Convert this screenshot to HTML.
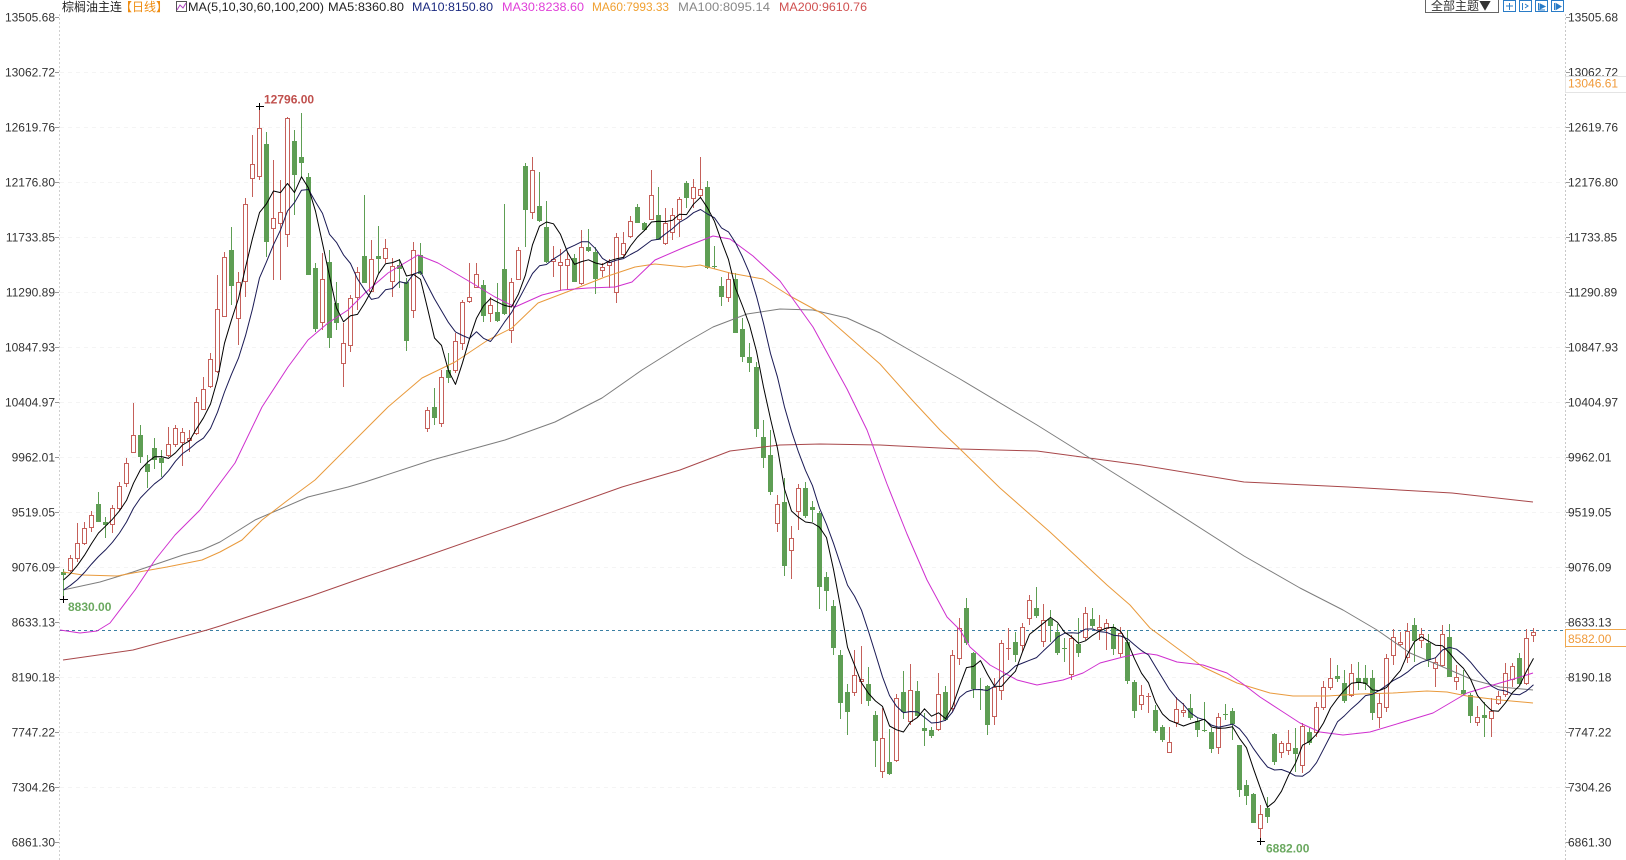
<!DOCTYPE html>
<html><head><meta charset="utf-8"><style>
html,body{margin:0;padding:0;background:#fff;}
svg{display:block;}
text{font-family:"Liberation Sans","Noto Sans CJK SC",sans-serif;font-size:12px;}
.ax{fill:#333;}
</style></head><body>
<svg id="s" width="1626" height="860" viewBox="0 0 1626 860" xmlns="http://www.w3.org/2000/svg">
<rect width="1626" height="860" fill="#fff"/>
<g stroke="#f4f4f4" stroke-dasharray="4,4" stroke-width="1">
<line x1="60" y1="72.5" x2="1566" y2="72.5"/><line x1="60" y1="127.5" x2="1566" y2="127.5"/><line x1="60" y1="182.5" x2="1566" y2="182.5"/><line x1="60" y1="237.5" x2="1566" y2="237.5"/><line x1="60" y1="292.5" x2="1566" y2="292.5"/><line x1="60" y1="347.5" x2="1566" y2="347.5"/><line x1="60" y1="402.5" x2="1566" y2="402.5"/><line x1="60" y1="457.5" x2="1566" y2="457.5"/><line x1="60" y1="512.5" x2="1566" y2="512.5"/><line x1="60" y1="567.5" x2="1566" y2="567.5"/><line x1="60" y1="677.5" x2="1566" y2="677.5"/><line x1="60" y1="732.5" x2="1566" y2="732.5"/><line x1="60" y1="787.5" x2="1566" y2="787.5"/>
</g>
<line x1="59.5" y1="14" x2="59.5" y2="860" stroke="#d0d0d0" stroke-dasharray="2,2"/>
<line x1="1565.5" y1="14" x2="1565.5" y2="860" stroke="#c8c8c8" stroke-dasharray="2,2"/>
<g stroke="#999">
<line x1="55" y1="17.5" x2="59" y2="17.5"/><line x1="55" y1="72.5" x2="59" y2="72.5"/><line x1="55" y1="127.5" x2="59" y2="127.5"/><line x1="55" y1="182.5" x2="59" y2="182.5"/><line x1="55" y1="237.5" x2="59" y2="237.5"/><line x1="55" y1="292.5" x2="59" y2="292.5"/><line x1="55" y1="347.5" x2="59" y2="347.5"/><line x1="55" y1="402.5" x2="59" y2="402.5"/><line x1="55" y1="457.5" x2="59" y2="457.5"/><line x1="55" y1="512.5" x2="59" y2="512.5"/><line x1="55" y1="567.5" x2="59" y2="567.5"/><line x1="55" y1="622.5" x2="59" y2="622.5"/><line x1="55" y1="677.5" x2="59" y2="677.5"/><line x1="55" y1="732.5" x2="59" y2="732.5"/><line x1="55" y1="787.5" x2="59" y2="787.5"/><line x1="55" y1="842.5" x2="59" y2="842.5"/>
<line x1="1566" y1="17.5" x2="1570" y2="17.5"/><line x1="1566" y1="72.5" x2="1570" y2="72.5"/><line x1="1566" y1="127.5" x2="1570" y2="127.5"/><line x1="1566" y1="182.5" x2="1570" y2="182.5"/><line x1="1566" y1="237.5" x2="1570" y2="237.5"/><line x1="1566" y1="292.5" x2="1570" y2="292.5"/><line x1="1566" y1="347.5" x2="1570" y2="347.5"/><line x1="1566" y1="402.5" x2="1570" y2="402.5"/><line x1="1566" y1="457.5" x2="1570" y2="457.5"/><line x1="1566" y1="512.5" x2="1570" y2="512.5"/><line x1="1566" y1="567.5" x2="1570" y2="567.5"/><line x1="1566" y1="622.5" x2="1570" y2="622.5"/><line x1="1566" y1="677.5" x2="1570" y2="677.5"/><line x1="1566" y1="732.5" x2="1570" y2="732.5"/><line x1="1566" y1="787.5" x2="1570" y2="787.5"/><line x1="1566" y1="842.5" x2="1570" y2="842.5"/>
</g>
<!-- left axis labels -->
<g class="ax" text-anchor="end">
<text x="55" y="21.6">13505.68</text><text x="55" y="76.6">13062.72</text><text x="55" y="131.6">12619.76</text><text x="55" y="186.6">12176.80</text><text x="55" y="241.6">11733.85</text><text x="55" y="296.6">11290.89</text><text x="55" y="351.6">10847.93</text><text x="55" y="406.6">10404.97</text><text x="55" y="461.6">9962.01</text><text x="55" y="516.6">9519.05</text><text x="55" y="571.6">9076.09</text><text x="55" y="626.6">8633.13</text><text x="55" y="681.6">8190.18</text><text x="55" y="736.6">7747.22</text><text x="55" y="791.6">7304.26</text><text x="55" y="846.6">6861.30</text>
</g>
<!-- right axis labels -->
<g class="ax">
<text x="1568" y="21.6">13505.68</text><text x="1568" y="76.6">13062.72</text><text x="1568" y="131.6">12619.76</text><text x="1568" y="186.6">12176.80</text><text x="1568" y="241.6">11733.85</text><text x="1568" y="296.6">11290.89</text><text x="1568" y="351.6">10847.93</text><text x="1568" y="406.6">10404.97</text><text x="1568" y="461.6">9962.01</text><text x="1568" y="516.6">9519.05</text><text x="1568" y="571.6">9076.09</text><text x="1568" y="626.6">8633.13</text><text x="1568" y="681.6">8190.18</text><text x="1568" y="736.6">7747.22</text><text x="1568" y="791.6">7304.26</text><text x="1568" y="846.6">6861.30</text>
</g>
<rect x="1565.5" y="76.5" width="62" height="16" fill="#fff" stroke="#e4e4e4"/>
<text x="1568" y="87.6" fill="#f09a3a">13046.61</text>
<line x1="60" y1="630.5" x2="1566" y2="630.5" stroke="#3a7fa3" stroke-dasharray="3,3"/>
<rect x="1565.5" y="629.5" width="62" height="17" fill="#fff" stroke="#f0a84e"/>
<text x="1568" y="643" fill="#f09a3a">8582.00</text>

<g id="candles"></g>

<g fill="none" stroke-width="1" stroke-linejoin="round">
<polyline stroke="#a8474a" points="63,660 133,650 207,630 220,626 311,596 365,577 415,560 518,524 622,487 680,470 730,451 780,445 820,444 880,445 960,449 1037,451 1141,465 1244,482 1348,487 1452,493 1533,502"/>
<polyline stroke="#7d7d7d" points="63,590 100,582 133,572 183,555 202,550 220,542 255,520 308,497 348,487 365,482 432,460 505,440 555,422 602,398 642,370 685,343 713,327 747,314 780,309 813,310 847,318 880,333 913,352 960,379 1037,425 1141,490 1244,556 1300,588 1343,610 1377,630 1410,653 1443,667 1473,680 1500,687 1533,690"/>
<polyline stroke="#e99a3c" points="63,572 83,575 117,576 133,573 167,567 202,560 220,552 242,540 262,520 288,500 315,480 342,453 365,430 388,407 422,378 455,362 488,340 512,328 538,303 572,290 605,277 635,267 655,264 685,267 700,265 730,273 763,279 790,296 823,314 847,335 880,364 913,401 940,430 960,449 1000,488 1050,532 1107,585 1130,605 1150,628 1177,648 1203,667 1237,683 1270,693 1293,696 1327,696 1360,694 1393,693 1427,691 1447,692 1467,696 1500,700 1533,703"/>
<polyline stroke="#cf2fcf" points="60,630 80,633 97,631 110,623 135,590 155,560 175,535 200,510 235,463 262,407 288,367 308,340 328,323 348,310 365,293 388,273 418,255 438,263 472,283 495,297 515,307 542,295 562,290 588,288 615,287 632,282 655,260 685,247 713,236 730,239 753,256 780,281 813,327 847,389 867,430 887,484 907,534 927,580 947,617 960,630 970,647 990,665 1017,680 1037,685 1063,680 1083,673 1100,663 1123,657 1143,653 1157,655 1177,662 1203,665 1227,673 1243,684 1260,697 1280,710 1300,723 1320,732 1343,735 1370,732 1400,723 1433,713 1467,693 1493,685 1517,678 1533,673"/>
<polyline id="ma10" stroke="#1a1a55"/>
<polyline id="ma5" stroke="#000"/>
</g>

<!-- markers -->
<g stroke="#000">
<line x1="256" y1="106.5" x2="264" y2="106.5"/><line x1="259.5" y1="103" x2="259.5" y2="110"/>
<line x1="60" y1="599.5" x2="68" y2="599.5"/><line x1="63.5" y1="596" x2="63.5" y2="603"/>
<line x1="1257" y1="841.5" x2="1265" y2="841.5"/><line x1="1260.5" y1="838" x2="1260.5" y2="845"/>
</g>
<text x="264" y="103.5" fill="#c0504d" font-weight="bold">12796.00</text>
<text x="68" y="611" fill="#6aa85f" font-weight="bold">8830.00</text>
<text x="1266" y="852.5" fill="#6aa85f" font-weight="bold">6882.00</text>

<!-- header -->
<text x="62" y="11" fill="#222" style="font-family:'Noto Sans CJK SC','WenQuanYi Zen Hei',sans-serif">棕榈油主连</text>
<text x="120" y="11" fill="#ef8c10" style="font-family:'Noto Sans CJK SC','WenQuanYi Zen Hei',sans-serif">【日线】</text>
<rect x="176.5" y="1.5" width="10" height="10" fill="#fff" stroke="#555"/>
<polyline points="177,10 180,5 183,8 186,3" fill="none" stroke="#b040c0"/>
<text x="188" y="11" fill="#222" textLength="136" lengthAdjust="spacingAndGlyphs">MA(5,10,30,60,100,200)</text>
<text x="328" y="11" fill="#222" textLength="76" lengthAdjust="spacingAndGlyphs">MA5:8360.80</text>
<text x="412" y="11" fill="#1b2a80" textLength="81" lengthAdjust="spacingAndGlyphs">MA10:8150.80</text>
<text x="502" y="11" fill="#e040d8" textLength="82" lengthAdjust="spacingAndGlyphs">MA30:8238.60</text>
<text x="592" y="11" fill="#f0a030" textLength="77" lengthAdjust="spacingAndGlyphs">MA60:7993.33</text>
<text x="678" y="11" fill="#888" textLength="92" lengthAdjust="spacingAndGlyphs">MA100:8095.14</text>
<text x="779" y="11" fill="#d05050" textLength="88" lengthAdjust="spacingAndGlyphs">MA200:9610.76</text>

<rect x="1425.5" y="-0.5" width="73" height="13" fill="#fff" stroke="#666"/>
<text x="1431" y="10" fill="#333" style="font-family:'Noto Sans CJK SC','WenQuanYi Zen Hei',sans-serif">全部主题▼</text>
<g fill="#fff" stroke="#2a7cc7">
<rect x="1503.5" y="0.5" width="12" height="11"/><rect x="1519.5" y="0.5" width="12" height="11"/><rect x="1535.5" y="0.5" width="12" height="11"/><rect x="1551.5" y="0.5" width="12" height="11"/>
</g>
<g stroke="#2a7cc7" fill="none">
<line x1="1506" y1="6" x2="1513" y2="6"/><line x1="1509.5" y1="3" x2="1509.5" y2="10"/>
<line x1="1522.5" y1="3" x2="1522.5" y2="10"/><polyline points="1525,4 1528,6 1525,8"/>
<polyline points="1538.5,3 1538.5,10 1545,10"/><polygon points="1540,4 1545,6.5 1540,9" fill="#2a7cc7"/>
<line x1="1554.5" y1="3" x2="1554.5" y2="10"/><polygon points="1556,3.5 1561,6.5 1556,9.5" fill="#2a7cc7"/>
</g>
</svg>
<script>
var D=[
["g",572,574,569,599],["r",558,570,555,572],["r",543,558,523,562],["r",528,543,522,545],["r",515,527,511,532],
["g",504,521,492,522],["g",522,524,517,538],["r",508,524,505,533],["r",486,508,482,511],["r",463,483,458,487],
["r",435,452,403,453],["g",435,456,425,463],["g",464,471,455,488],["g",448,459,438,469],["g",458,462,450,477],
["r",444,455,427,457],["r",428,444,425,447],["r",432,442,428,466],["r",438,440,430,452],["r",402,433,397,435],
["r",389,409,377,410],["r",359,386,353,388],["r",309,371,275,373],["r",257,316,252,317],["g",250,285,227,305],
["r",282,318,272,345],["r",204,281,198,297],["r",164,178,135,197],["r",128,176,107,180],["g",144,241,132,257],
["r",218,228,160,280],["r",212,223,180,280],["r",118,234,117,247],["g",141,174,130,215],["g",157,162,113,177],
["g",177,274,173,275],["g",268,328,263,332],["r",279,322,253,330],["g",262,337,250,348],["g",303,322,282,330],
["r",343,363,323,387],["r",298,345,295,352],["r",272,297,267,310],["g",256,282,195,283],["r",259,291,240,292],
["g",256,258,226,273],["r",248,258,239,263],["r",266,281,258,297],["g",265,268,259,288],["g",282,340,278,351],
["r",250,310,242,318],["g",255,273,243,275],["r",410,428,407,432],["g",407,417,388,425],["r",377,423,370,427],
["g",370,377,353,383],["r",341,370,333,373],["r",302,343,300,350],["r",297,301,263,303],["r",274,287,263,288],
["g",285,315,280,322],["r",305,313,297,322],["g",312,320,283,322],["g",269,313,204,315],["r",282,330,278,343],
["r",250,279,247,280],["g",166,209,163,247],["r",170,212,157,219],["g",206,220,172,222],["g",227,261,201,263],
["r",259,261,246,277],["r",262,265,249,290],["r",259,265,252,290],["g",258,281,254,282],["r",247,283,230,285],
["g",247,250,229,252],["g",252,278,247,294],["r",267,270,263,277],["r",262,265,259,288],["r",237,292,233,303],
["r",243,254,232,258],["r",221,236,216,238],["g",207,222,204,223],["g",223,229,222,231],["r",195,219,170,220],
["g",215,239,187,240],["r",223,243,208,245],["r",215,232,208,240],["r",199,219,197,237],["g",183,197,181,208],
["r",187,198,179,208],["r",189,195,157,198],["g",187,267,181,269],["g",266,267,246,269],["g",286,296,277,306],
["r",279,297,272,302],["g",279,332,273,333],["g",329,356,318,362],["g",357,362,343,372],["g",367,428,362,437],
["g",437,457,420,468],["g",455,491,430,495],["r",504,523,495,532],["g",502,565,478,576],["r",538,550,526,579],
["r",488,511,484,530],["g",488,515,482,518],["g",507,509,501,522],["g",513,586,511,609],["g",577,590,572,611],
["g",606,647,600,655],["g",655,702,650,719],["g",692,711,684,735],["r",675,692,650,696],["r",679,681,646,704],
["g",684,700,667,706],["g",715,740,711,767],["r",738,771,708,778],["g",762,773,729,775],["r",698,760,694,762],
["g",692,711,671,719],["r",690,721,664,725],["g",691,715,681,717],["g",728,730,713,746],["g",730,735,727,738],
["r",694,729,673,731],["g",692,719,686,721],["r",655,708,650,712],["r",628,658,618,665],["g",608,642,598,645],
["g",653,688,652,698],["g",689,690,678,710],["g",686,724,685,735],["r",687,716,678,725],["r",643,690,640,700],
["r",648,649,628,660],["g",642,654,632,662],["r",627,645,623,652],["r",600,618,595,625],["g",608,615,587,618],
["r",620,641,604,647],["g",619,625,610,642],["g",632,652,624,655],["g",648,649,638,662],["r",638,674,635,680],
["g",644,652,618,657],["r",613,637,607,640],["g",619,625,608,628],["r",627,629,615,640],["r",623,628,619,650],
["g",627,648,624,655],["r",633,653,627,657],["g",642,680,630,684],["g",682,710,680,718],["r",695,704,685,710],
["r",696,697,693,713],["g",710,730,705,733],["g",727,739,725,742],["r",742,752,727,753],["r",709,722,697,727],
["r",710,712,703,717],["g",708,717,694,720],["g",721,729,718,737],["g",730,731,702,732],["g",732,748,728,753],
["r",717,747,713,754],["g",714,715,704,720],["g",711,723,708,740],["g",745,789,745,797],["g",785,795,780,805],
["g",794,822,793,823],["r",814,828,805,842],["g",808,816,797,823],["g",734,761,733,765],["r",743,752,741,758],
["r",743,750,730,755],["g",748,753,728,772],["r",726,765,723,773],["g",732,742,728,745],["r",707,732,702,737],
["r",687,707,681,710],["r",678,687,658,690],["g",676,678,665,682],["g",683,700,670,703],["r",673,695,664,697],
["g",678,682,662,690],["g",678,683,665,690],["g",678,712,670,720],["r",703,717,693,728],["r",658,707,654,712],
["r",637,655,629,665],["r",642,644,632,646],["r",631,657,623,663],["g",625,640,618,662],["r",634,640,628,648],
["g",643,659,634,667],["r",662,668,657,687],["r",634,665,625,667],["g",637,676,624,677],["r",677,681,665,690],
["g",690,693,670,695],["g",695,715,693,723],["r",717,722,706,726],["g",715,717,702,737],["r",711,718,698,737],
["r",696,703,691,705],["r",673,694,663,697],["r",666,679,663,687],["g",658,683,653,685],["r",638,683,629,685],
["r",632,635,628,642]
];
var R="#c5605a",G="#5e9e54";
var closes=[605,600,600,598,597,590,585,578,573];
var h="";
for(var i=0;i<D.length;i++){
 var d=D[i],t=d[0],bt=d[1],bb=d[2],wt=d[3],wb=d[4];
 var cx=63+7*i+0.5,col=(t==="r")?R:G;
 h+='<line x1="'+cx+'" y1="'+wt+'" x2="'+cx+'" y2="'+wb+'" stroke="'+col+'"/>';
 if(bb-bt<2){
  h+='<line x1="'+(cx-2.5)+'" y1="'+(bt+0.5)+'" x2="'+(cx+2.5)+'" y2="'+(bt+0.5)+'" stroke="'+col+'"/>';
 }else{
  h+='<rect x="'+(cx-2)+'" y="'+(bt+0.5)+'" width="4" height="'+(bb-bt)+'" fill="'+(t==="r"?"#fff":col)+'" stroke="'+col+'"/>';
 }
 closes.push(t==="r"?bt:bb);
}
document.getElementById("candles").innerHTML=h;
function ma(n){var p=[];for(var i=0;i<D.length;i++){var s=0;for(var k=0;k<n;k++)s+=closes[i+9-k];p.push((63.5+7*i)+","+(s/n).toFixed(1));}return p.join(" ");}
document.getElementById("ma5").setAttribute("points",ma(5));
document.getElementById("ma10").setAttribute("points",ma(10));
</script>
</body></html>
